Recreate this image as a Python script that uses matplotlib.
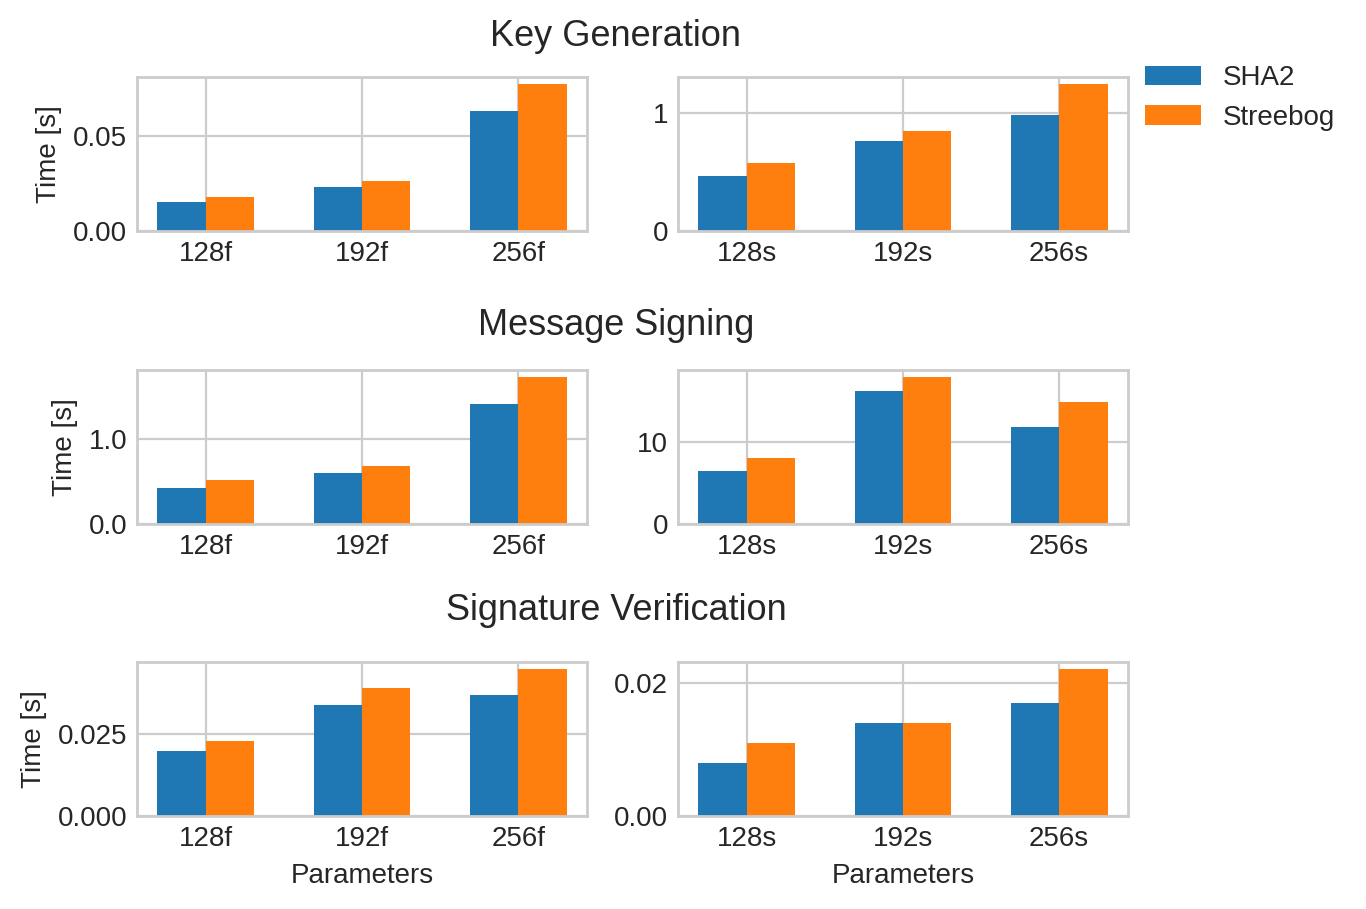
import numpy as np
import matplotlib
matplotlib.use("Agg")
import matplotlib.pyplot as plt

plt.style.use("seaborn-v0_8-whitegrid")
plt.rcParams['font.family'] = ['Liberation Sans', 'DejaVu Sans']

# data
fast_params = ['128f', '192f', '256f']
small_params = ['128s', '192s', '256s']
series = ['SHA2', 'Streebog']

keygen_fast_sha2 = [0.0153, 0.0232, 0.0632]
keygen_fast_streebog = [0.0179, 0.0263, 0.0774]
keygen_small_sha2 = [0.466, 0.763, 0.983]
keygen_small_streebog = [0.576, 0.847, 1.246]

sign_fast_sha2 = [0.424, 0.600, 1.412]
sign_fast_streebog = [0.518, 0.682, 1.729]
sign_small_sha2 = [6.46, 16.2, 11.8]
sign_small_streebog = [8.05, 17.9, 14.9]

verify_fast_sha2 = [0.0198, 0.0338, 0.0366]
verify_fast_streebog = [0.0229, 0.0387, 0.0445]
verify_small_sha2 = [0.008, 0.014, 0.017]
verify_small_streebog = [0.011, 0.014, 0.022]

titles = ['Key Generation', 'Message Signing', 'Signature Verification']
rows = [
    (keygen_fast_sha2, keygen_fast_streebog, keygen_small_sha2, keygen_small_streebog),
    (sign_fast_sha2, sign_fast_streebog, sign_small_sha2, sign_small_streebog),
    (verify_fast_sha2, verify_fast_streebog, verify_small_sha2, verify_small_streebog),
]
yticks = [
    ([0.0, 0.05], ['0.00', '0.05'], [0, 1], ['0', '1']),
    ([0.0, 1.0], ['0.0', '1.0'], [0, 10], ['0', '10']),
    ([0.0, 0.025], ['0.000', '0.025'], [0.0, 0.02], ['0.00', '0.02']),
]

W, H = 1366, 909
fig = plt.figure(figsize=(W / 200, H / 200), dpi=200)

row_tops = [77, 370, 662]
ax_h = 154
cols = [(137, 587), (678, 1128)]
title_y = [37, 325, 610]
width = 0.31
x = np.arange(3)

for r in range(3):
    fa, fb, sa, sb = rows[r]
    for c, (left, right) in enumerate(cols):
        ax = fig.add_axes([left / W, 1 - (row_tops[r] + ax_h) / H,
                           (right - left) / W, ax_h / H])
        a, b = (fa, fb) if c == 0 else (sa, sb)
        labels = fast_params if c == 0 else small_params
        ax.bar(x - width / 2, a, width, color='#1f77b4', label=series[0])
        ax.bar(x + width / 2, b, width, color='#ff7f0e', label=series[1])
        ax.set_xticks(x)
        ax.set_xticklabels(labels)
        tv, tl = (yticks[r][0], yticks[r][1]) if c == 0 else (yticks[r][2], yticks[r][3])
        ax.set_yticks(tv)
        ax.set_yticklabels(tl)
        ax.tick_params(labelsize=10)
        if c == 0:
            ax.set_ylabel('Time [s]', fontsize=10)
        if r == 2:
            ax.set_xlabel('Parameters', fontsize=10)
        if r == 0 and c == 1:
            handles, lbls = ax.get_legend_handles_labels()
    fig.text(616 / W, 1 - title_y[r] / H, titles[r], ha='center', va='center',
             fontsize=13, color='.15')

fig.legend(handles, lbls, loc='upper left', bbox_to_anchor=(1120 / W, 1 - 40 / H),
           frameon=False, fontsize=10)

fig.savefig('out.png', dpi=200)
